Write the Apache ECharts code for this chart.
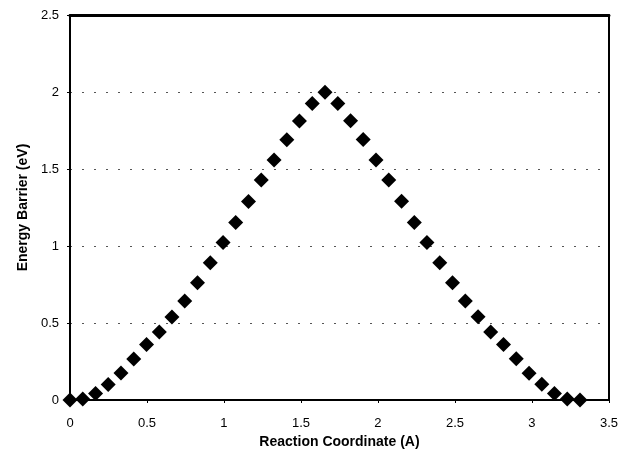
<!DOCTYPE html>
<html>
<head>
<meta charset="utf-8">
<script src="https://cdn.jsdelivr.net/npm/echarts@6.0.0/dist/echarts.min.js"></script>
<style>
  html, body { margin: 0; padding: 0; background: #fff; }
  #chart { width: 621px; height: 458px; }
</style>
</head>
<body>
<div id="chart"></div>
<script>
// Reaction coordinate (A), 41 images
const coords = [
  0, 0.083, 0.166, 0.248, 0.331, 0.414, 0.497, 0.580, 0.662, 0.745,
  0.828, 0.911, 0.994, 1.076, 1.159, 1.242, 1.325, 1.408, 1.490, 1.573,
  1.656, 1.739, 1.822, 1.904, 1.987, 2.070, 2.153, 2.236, 2.318, 2.401,
  2.484, 2.567, 2.650, 2.732, 2.815, 2.898, 2.981, 3.064, 3.146, 3.229, 3.312
];
// Energy barrier (eV)
const energies = [
  0, 0.006, 0.043, 0.101, 0.175, 0.267, 0.361, 0.441, 0.539, 0.643,
  0.762, 0.892, 1.022, 1.153, 1.289, 1.428, 1.558, 1.690, 1.812, 1.926,
  1.998, 1.926, 1.813, 1.692, 1.558, 1.428, 1.291, 1.152, 1.022, 0.892,
  0.762, 0.643, 0.540, 0.442, 0.361, 0.268, 0.174, 0.102, 0.043, 0.006, 0
];

const points = coords.map((x, i) => [x, energies[i]]);

const chart = echarts.init(document.getElementById('chart'));

const labelFont = {
  fontFamily: 'Liberation Sans, Arial, sans-serif',
  fontSize: 13,
  color: '#000'
};

chart.setOption({
  animation: false,
  backgroundColor: '#fff',
  grid: {
    left: 70,
    right: 9,
    top: 15,
    bottom: 58,
    show: false
  },
  xAxis: [
    {
      type: 'value',
      min: 0,
      max: 3.5,
      interval: 0.5,
      name: 'Reaction Coordinate (A)',
      nameLocation: 'middle',
      nameGap: 28,
      nameTextStyle: Object.assign({}, labelFont, { fontWeight: 'bold', fontSize: 14 }),
      axisLine: { show: true, onZero: false, lineStyle: { color: '#000', width: 2 } },
      axisTick: { show: true, inside: false, length: 3, lineStyle: { color: '#000' } },
      axisLabel: Object.assign({}, labelFont, { margin: 17 }),
      splitLine: { show: false }
    },
    {
      // top frame edge
      type: 'value',
      position: 'top',
      min: 0,
      max: 3.5,
      axisLine: { show: true, onZero: false, lineStyle: { color: '#000', width: 3 } },
      axisTick: { show: false },
      axisLabel: { show: false },
      splitLine: { show: false }
    }
  ],
  yAxis: [
    {
      type: 'value',
      min: 0,
      max: 2.5,
      interval: 0.5,
      name: 'Energy Barrier (eV)',
      nameLocation: 'middle',
      nameGap: 40,
      nameRotate: 90,
      nameTextStyle: Object.assign({}, labelFont, { fontWeight: 'bold', fontSize: 14 }),
      axisLine: { show: true, onZero: false, lineStyle: { color: '#000', width: 2 } },
      axisTick: { show: true, inside: false, length: 3, lineStyle: { color: '#000' } },
      axisLabel: Object.assign({}, labelFont, { margin: 11 }),
      splitLine: {
        show: true,
        showMinLine: false,
        showMaxLine: false,
        lineStyle: { color: '#555', width: 1, type: [2, 10] }
      }
    },
    {
      // right frame edge
      type: 'value',
      position: 'right',
      min: 0,
      max: 2.5,
      axisLine: { show: true, onZero: false, lineStyle: { color: '#000', width: 2 } },
      axisTick: { show: false },
      axisLabel: { show: false },
      splitLine: { show: false }
    }
  ],
  series: [
    {
      type: 'scatter',
      data: points,
      symbol: 'diamond',
      symbolSize: 15,
      itemStyle: { color: '#000', opacity: 1 }
    }
  ]
});
</script>
</body>
</html>
